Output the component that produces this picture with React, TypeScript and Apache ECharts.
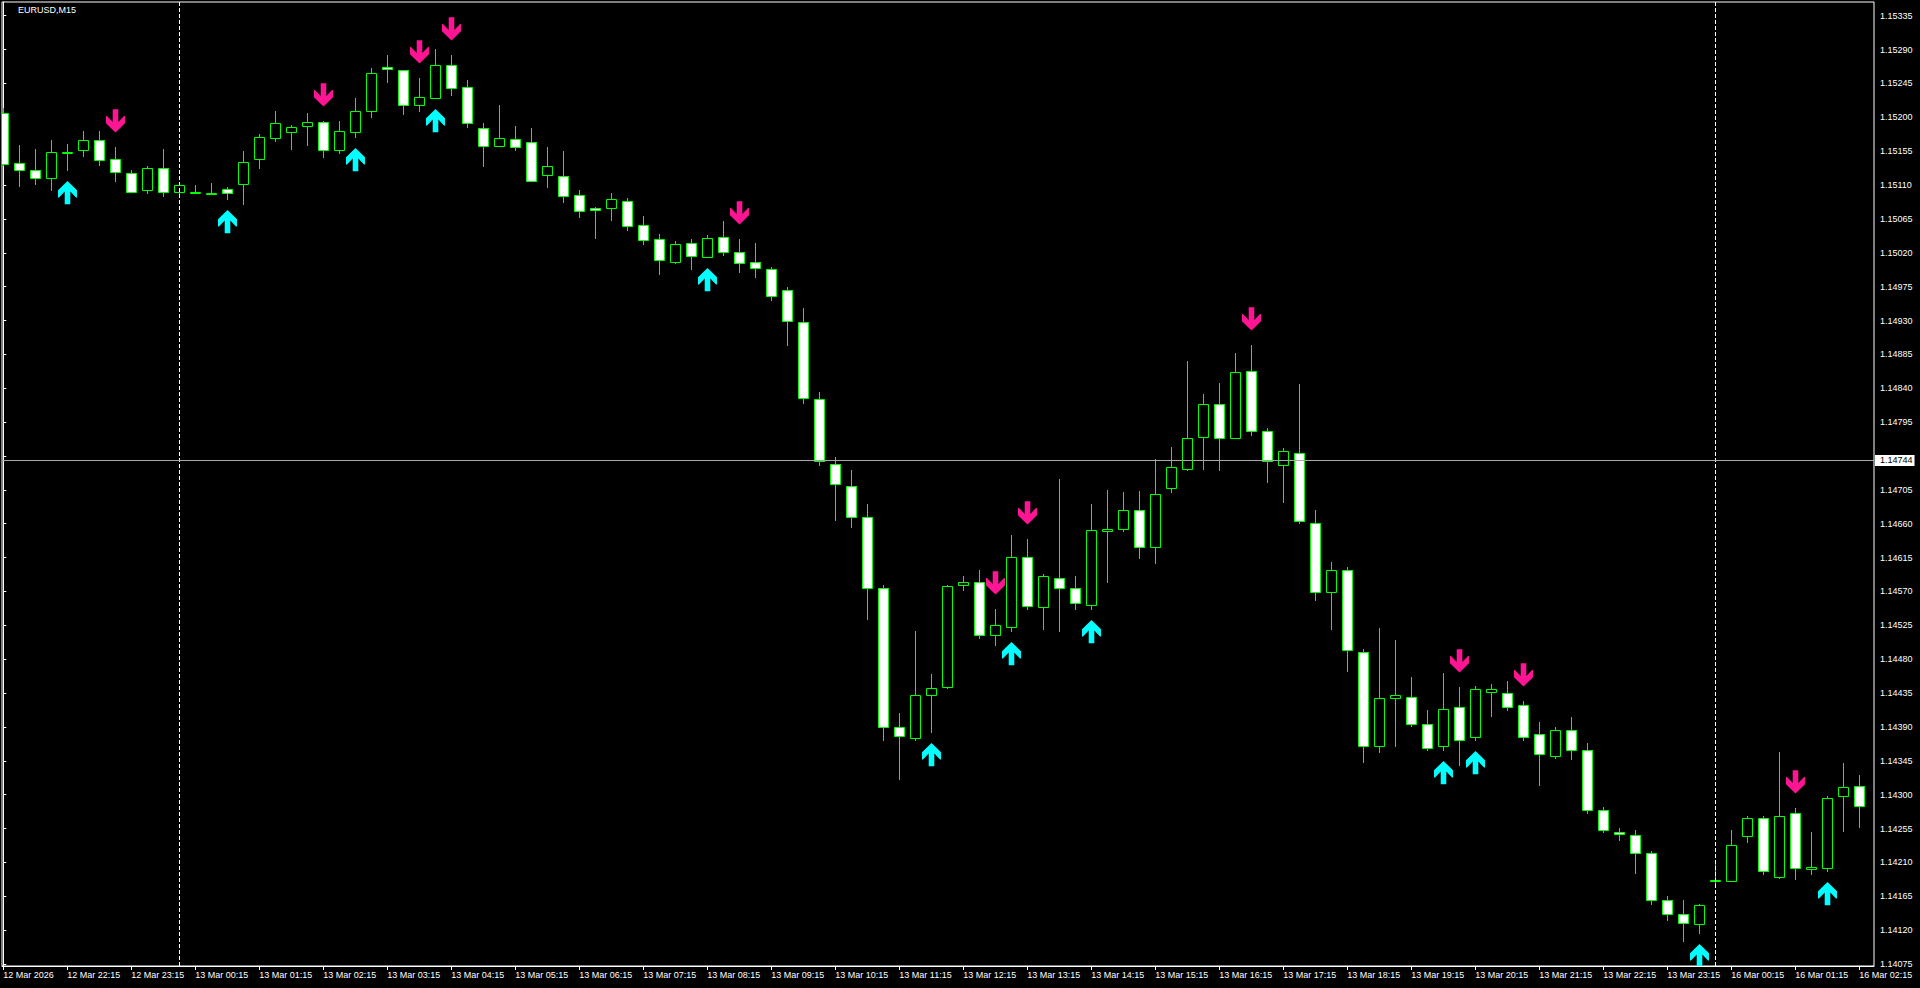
import React, { useEffect, useRef } from "react";
import * as echarts from "echarts";

const symbolTitle = "EURUSD,M15";

const opens = [
  1.15206, 1.15139, 1.1513, 1.15119, 1.15154, 1.15156, 1.1517, 1.15144, 1.15126, 1.15104,
  1.15132, 1.15101, 1.15101, 1.15099, 1.15105, 1.15111, 1.15145, 1.15172, 1.15181, 1.15189,
  1.15194, 1.15157, 1.1518, 1.15208, 1.15267, 1.15263, 1.15217, 1.15225, 1.15269, 1.1524,
  1.15186, 1.15162, 1.15171, 1.15167, 1.15123, 1.15122, 1.15097, 1.15079, 1.15079, 1.15089,
  1.15057, 1.15038, 1.15008, 1.15033, 1.15014, 1.15041, 1.15021, 1.15008, 1.14998, 1.1497,
  1.14928, 1.14826, 1.14739, 1.1471, 1.14669, 1.14575, 1.1439, 1.14375, 1.14432, 1.14443,
  1.14578, 1.14583, 1.14512, 1.14523, 1.14616, 1.14549, 1.14588, 1.14575, 1.14552, 1.1465,
  1.14653, 1.14678, 1.14629, 1.14707, 1.14733, 1.14775, 1.14819, 1.14774, 1.14863, 1.14783,
  1.14738, 1.14754, 1.14661, 1.14569, 1.14598, 1.1449, 1.14365, 1.14429, 1.1443, 1.14394,
  1.14364, 1.14416, 1.14377, 1.14437, 1.14435, 1.14419, 1.1438, 1.14352, 1.14386, 1.1436,
  1.14279, 1.14251, 1.14246, 1.14222, 1.1416, 1.14142, 1.14128, 1.14185, 1.14185, 1.14245,
  1.14269, 1.14191, 1.14276, 1.14201, 1.14203, 1.14298, 1.14312,
];
const closes = [
  1.15138, 1.1513, 1.1512, 1.15154, 1.15154, 1.1517, 1.15143, 1.15127, 1.15101, 1.15132,
  1.15101, 1.1511, 1.15101, 1.15099, 1.151, 1.1514, 1.15174, 1.15192, 1.15187, 1.15194,
  1.15156, 1.15182, 1.15208, 1.15259, 1.15264, 1.15217, 1.15227, 1.15269, 1.15239, 1.15192,
  1.15162, 1.15172, 1.1516, 1.15116, 1.15135, 1.15095, 1.15076, 1.15077, 1.15091, 1.15055,
  1.15037, 1.1501, 1.15031, 1.15016, 1.15039, 1.15021, 1.15006, 1.15, 1.14962, 1.14929,
  1.14827, 1.14743, 1.14713, 1.14669, 1.14575, 1.1439, 1.14378, 1.14432, 1.14442, 1.14577,
  1.14583, 1.14512, 1.14525, 1.14616, 1.14551, 1.1459, 1.14575, 1.14554, 1.14652, 1.14653,
  1.14678, 1.14629, 1.14699, 1.14736, 1.14774, 1.14819, 1.14774, 1.14861, 1.14783, 1.14743,
  1.14757, 1.14663, 1.14569, 1.14598, 1.14492, 1.14365, 1.14429, 1.14432, 1.14394, 1.14362,
  1.14414, 1.14372, 1.1444, 1.1444, 1.14416, 1.14377, 1.14354, 1.14386, 1.14359, 1.14279,
  1.14253, 1.14248, 1.14222, 1.1416, 1.14142, 1.14129, 1.14154, 1.14186, 1.14233, 1.14269,
  1.14199, 1.14271, 1.14203, 1.14204, 1.14295, 1.1431, 1.14285,
];
const lows = [
  1.15137, 1.15109, 1.15112, 1.15104, 1.1513, 1.15149, 1.15136, 1.15116, 1.15101, 1.151,
  1.15095, 1.151, 1.15099, 1.15098, 1.15092, 1.15085, 1.15132, 1.15169, 1.15158, 1.15163,
  1.15147, 1.15153, 1.15174, 1.15201, 1.15247, 1.15204, 1.15209, 1.15225, 1.1523, 1.15187,
  1.15135, 1.15162, 1.15156, 1.15116, 1.15107, 1.15088, 1.15068, 1.1504, 1.15064, 1.1505,
  1.15032, 1.14992, 1.15007, 1.14998, 1.15014, 1.15017, 1.14995, 1.14988, 1.14957, 1.14898,
  1.14821, 1.14738, 1.14665, 1.14656, 1.14533, 1.14373, 1.14321, 1.14372, 1.14383, 1.14442,
  1.14572, 1.14508, 1.14499, 1.14518, 1.14547, 1.1452, 1.14518, 1.14547, 1.14547, 1.14582,
  1.1465, 1.14614, 1.14608, 1.14702, 1.14731, 1.14733, 1.14731, 1.14774, 1.14778, 1.14715,
  1.14689, 1.14661, 1.14559, 1.1452, 1.14464, 1.14344, 1.14357, 1.14365, 1.14391, 1.14359,
  1.1436, 1.14339, 1.14373, 1.14404, 1.14412, 1.14373, 1.14313, 1.14349, 1.14347, 1.14276,
  1.1425, 1.1424, 1.14196, 1.14155, 1.14133, 1.14105, 1.14116, 1.14183, 1.14185, 1.14237,
  1.14194, 1.14189, 1.14188, 1.14194, 1.14199, 1.14252, 1.14257,
];
const highs = [
  1.15213, 1.15163, 1.15158, 1.1517, 1.15165, 1.15182, 1.15182, 1.15161, 1.1513, 1.15135,
  1.15158, 1.15113, 1.1511, 1.15113, 1.15108, 1.15155, 1.15178, 1.15209, 1.1519, 1.15206,
  1.15195, 1.15195, 1.15226, 1.15266, 1.15283, 1.15263, 1.15252, 1.15291, 1.15283, 1.1525,
  1.15192, 1.15217, 1.15189, 1.15186, 1.15161, 1.15155, 1.15103, 1.15081, 1.151, 1.15093,
  1.15069, 1.15045, 1.15036, 1.15038, 1.15043, 1.15062, 1.15038, 1.15033, 1.15001, 1.14975,
  1.14946, 1.14835, 1.14749, 1.14731, 1.14686, 1.14578, 1.14408, 1.14517, 1.1446, 1.14578,
  1.14591, 1.14598, 1.14547, 1.14645, 1.1464, 1.14593, 1.1472, 1.14591, 1.14686, 1.14705,
  1.14702, 1.14704, 1.14746, 1.14762, 1.14876, 1.14832, 1.14847, 1.14887, 1.14897, 1.14787,
  1.14761, 1.14845, 1.14678, 1.14609, 1.14603, 1.14494, 1.14521, 1.14505, 1.14456, 1.14412,
  1.14461, 1.14443, 1.14445, 1.14447, 1.14451, 1.14425, 1.14396, 1.1439, 1.14403, 1.14368,
  1.14284, 1.14256, 1.14253, 1.14225, 1.14165, 1.1416, 1.14155, 1.14209, 1.14253, 1.14272,
  1.14272, 1.14357, 1.14282, 1.1425, 1.14298, 1.14342, 1.14326,
];

const downArrowBars = [7, 20, 26, 28, 46, 62, 64, 78, 91, 95, 112];
const upArrowBars = [4, 14, 22, 27, 44, 58, 63, 68, 90, 92, 106, 114];

const timeTickBars = [
  0, 4, 8, 12, 16, 20, 24, 28, 32, 36, 40, 44, 48, 52, 56, 60, 64, 68, 72, 76, 80, 84, 88, 92,
  96, 100, 104, 108, 112, 116,
];
const timeTickLabels = [
  "12 Mar 2026", "12 Mar 22:15", "12 Mar 23:15", "13 Mar 00:15", "13 Mar 01:15", "13 Mar 02:15",
  "13 Mar 03:15", "13 Mar 04:15", "13 Mar 05:15", "13 Mar 06:15", "13 Mar 07:15", "13 Mar 08:15",
  "13 Mar 09:15", "13 Mar 10:15", "13 Mar 11:15", "13 Mar 12:15", "13 Mar 13:15", "13 Mar 14:15",
  "13 Mar 15:15", "13 Mar 16:15", "13 Mar 17:15", "13 Mar 18:15", "13 Mar 19:15", "13 Mar 20:15",
  "13 Mar 21:15", "13 Mar 22:15", "13 Mar 23:15", "16 Mar 00:15", "16 Mar 01:15", "16 Mar 02:15",
];
const priceTicks = [
  1.15335, 1.1529, 1.15245, 1.152, 1.15155, 1.1511, 1.15065, 1.1502, 1.14975, 1.1493, 1.14885,
  1.1484, 1.14795, 1.1475, 1.14705, 1.1466, 1.14615, 1.1457, 1.14525, 1.1448, 1.14435, 1.1439,
  1.14345, 1.143, 1.14255, 1.1421, 1.14165, 1.1412, 1.14075,
];
// 1.14750 sits under the current-price tag and is hidden in the reference
const priceLabels = [
  1.15335, 1.1529, 1.15245, 1.152, 1.15155, 1.1511, 1.15065, 1.1502, 1.14975, 1.1493, 1.14885,
  1.1484, 1.14795, 1.14705, 1.1466, 1.14615, 1.1457, 1.14525, 1.1448, 1.14435, 1.1439,
  1.14345, 1.143, 1.14255, 1.1421, 1.14165, 1.1412, 1.14075,
];
const currentPrice = 1.14744;
const separatorBars = [11, 107];

const FONT = '"Liberation Sans", Arial, sans-serif';

function downArrowPoints(cx: number, tipY: number): number[][] {
  const p = [
    [-2.8, -23.3], [2.8, -23.3], [2.8, -10.5], [8.5, -16.6], [9.5, -16.6], [9.5, -9.3],
    [0, 0], [-9.5, -9.3], [-9.5, -16.6], [-8.5, -16.6], [-2.8, -10.5],
  ];
  return p.map(([x, y]) => [cx + x, tipY + y]);
}
function upArrowPoints(cx: number, tipY: number): number[][] {
  return downArrowPoints(cx, 0).map(([x, y]) => [x, tipY - y]);
}

export default function App() {
  const ref = useRef<HTMLDivElement>(null);
  useEffect(() => {
    document.body.style.margin = "0";
    document.body.style.background = "#000";
    if (!ref.current) return;
    const chart = echarts.init(ref.current, undefined, { renderer: "svg" });

    const candleData = opens.map((o, i) => [i, o, closes[i], lows[i], highs[i]]);
    const arrowData = [
      ...downArrowBars.map((i) => [i, highs[i], 1]),
      ...upArrowBars.map((i) => [i, lows[i], 0]),
    ];
    const labelMap = new Map<number, string>();
    timeTickBars.forEach((b, k) => labelMap.set(b, timeTickLabels[k]));

    const option: any = {
      animation: false,
      backgroundColor: "#000",
      grid: {
        left: 2,
        top: 2,
        width: 1872,
        height: 964,
        show: true,
        borderColor: "#ffffff",
        borderWidth: 1,
        backgroundColor: "#000",
      },
      xAxis: {
        type: "value",
        min: -0.08125,
        max: 116.919,
        axisLine: { show: true, lineStyle: { color: "#ffffff", width: 1 } },
        axisTick: { show: true, length: 4, customValues: timeTickBars, lineStyle: { color: "#ffffff" } },
        axisLabel: {
          show: true,
          customValues: timeTickBars,
          formatter: (v: number) => labelMap.get(Math.round(v)) ?? "",
          color: "#ffffff",
          fontSize: 9,
          fontFamily: FONT,
          align: "left",
          margin: 4,
        },
        splitLine: { show: false },
      },
      yAxis: {
        type: "value",
        position: "right",
        min: 1.1407234,
        max: 1.153532,
        axisLine: { show: true, lineStyle: { color: "#ffffff", width: 1 } },
        axisTick: { show: true, length: 3, customValues: priceTicks, lineStyle: { color: "#ffffff" } },
        axisLabel: {
          show: true,
          customValues: priceLabels,
          formatter: (v: number) => v.toFixed(5),
          color: "#ffffff",
          fontSize: 9,
          fontFamily: FONT,
          margin: 6,
        },
        splitLine: { show: false },
      },
      graphic: [
        {
          type: "text",
          left: 18,
          top: 5,
          z: 10,
          style: { text: symbolTitle, fill: "#ffffff", fontSize: 9, fontFamily: FONT },
        },
      ],
      series: [
        {
          type: "scatter",
          name: "levels",
          silent: true,
          symbolSize: 0,
          z: 1,
          data: [[0, currentPrice]],
          itemStyle: { opacity: 0 },
          markLine: {
            silent: true,
            symbol: ["none", "none"],
            precision: 6,
            animation: false,
            data: [
              ...separatorBars.map((b) => ({
                xAxis: b,
                lineStyle: { color: "#ffffff", type: [4, 2], width: 1 },
                label: { show: false },
              })),
              {
                yAxis: currentPrice,
                lineStyle: { color: "#a8a8a8", type: "solid", width: 1 },
                label: {
                  show: true,
                  position: "end",
                  distance: 1,
                  formatter: currentPrice.toFixed(5),
                  backgroundColor: "#ffffff",
                  color: "#000000",
                  fontSize: 9,
                  fontFamily: FONT,
                  lineHeight: 10,
                  padding: [1, 2, 0, 5],
                },
              },
            ],
          },
        },
        {
          type: "custom",
          name: "candles",
          clip: true,
          z: 2,
          encode: { x: 0, y: [1, 2, 3, 4] },
          data: candleData,
          renderItem: (params: any, api: any) => {
            const i = api.value(0);
            const o = api.value(1);
            const c = api.value(2);
            const l = api.value(3);
            const h = api.value(4);
            const po = api.coord([i, o]);
            const pc = api.coord([i, c]);
            const pl = api.coord([i, l]);
            const ph = api.coord([i, h]);
            const col = Math.floor(po[0]);
            const cx = col + 0.5;
            const yO = Math.round(po[1]);
            const yC = Math.round(pc[1]);
            const yL = Math.round(pl[1]);
            const yH = Math.round(ph[1]);
            const bear = c < o;
            const top = Math.min(yO, yC) + 0.5;
            let hgt = Math.abs(yO - yC);
            if (hgt < 1) hgt = 1;
            return {
              type: "group",
              children: [
                {
                  type: "line",
                  shape: { x1: cx, y1: yH, x2: cx, y2: yL + 1 },
                  style: { stroke: "#00ff00", lineWidth: 1 },
                },
                {
                  type: "rect",
                  shape: { x: col - 4.5, y: top, width: 10, height: hgt },
                  style: { fill: bear ? "#ffffff" : "#000000", stroke: "#00ff00", lineWidth: 1 },
                },
              ],
            };
          },
        },
        {
          type: "custom",
          name: "arrows",
          clip: true,
          z: 3,
          encode: { x: 0, y: 1 },
          data: arrowData,
          renderItem: (params: any, api: any) => {
            const i = api.value(0);
            const p = api.value(1);
            const down = api.value(2) === 1;
            const pt = api.coord([i, p]);
            const cx = Math.floor(pt[0]) + 0.5;
            const pts = down
              ? downArrowPoints(cx, Math.round(pt[1]) - 14.5)
              : upArrowPoints(cx, Math.round(pt[1]) + 11);
            return {
              type: "polygon",
              shape: { points: pts },
              style: { fill: down ? "#ff1493" : "#00ffff" },
            };
          },
        },
      ],
    };
    chart.setOption(option);
    return () => chart.dispose();
  }, []);
  return (
    <div
      ref={ref}
      style={{ position: "fixed", left: 0, top: 0, width: 1920, height: 988, background: "#000" }}
    />
  );
}
